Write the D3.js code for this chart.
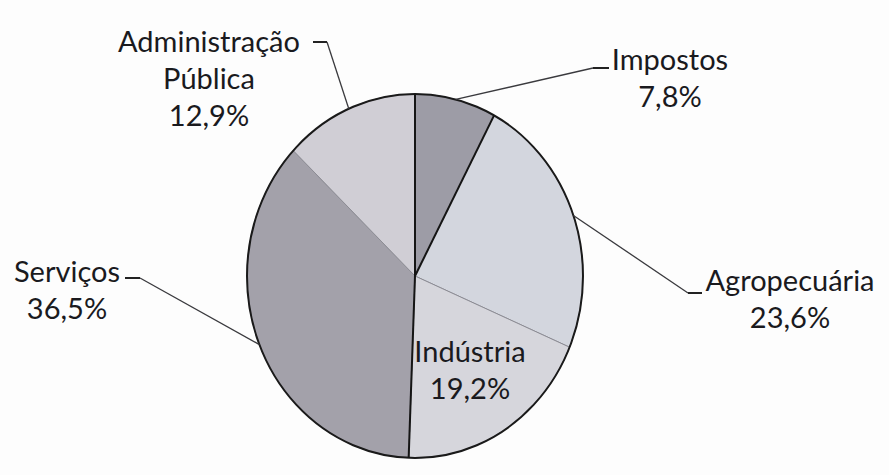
<!DOCTYPE html>
<html>
<head>
<meta charset="utf-8">
<script src="https://cdn.jsdelivr.net/npm/d3@7"></script>
<style>
  body { margin: 0; background: #fdfdfd; }
  svg { display: block; }
  .lbl { font-family: Lato, "Open Sans", sans-serif; font-size: 29px; fill: #1a1a1e; }
</style>
</head>
<body>
<svg id="chart" width="889" height="475"></svg>
<script>
// data
const categories = ["Impostos", "Agropecuária", "Indústria", "Serviços", "Administração Pública"];
const shares = [7.8, 23.6, 19.2, 36.5, 12.9];
const shareText = ["7,8%", "23,6%", "19,2%", "36,5%", "12,9%"];
const nameLines = [["Impostos"], ["Agropecuária"], ["Indústria"], ["Serviços"], ["Administração", "Pública"]];
const fills = ["#9d9ca6", "#d3d6de", "#d6d6dc", "#a3a1aa", "#d0ced5"];

// layout
const cx = 415, cy = 276, rx = 168, ry = 182;
const lineGap = 37;
// label centre x, first baseline, leader dash [x where the line joins, x at label, y]
const labelPos = [
  { x: 670, y: 70, dash: [593, 609, 68] },
  { x: 790, y: 291, dash: [688, 702, 293] },
  { x: 470, y: 362, dash: null },
  { x: 67, y: 282, dash: [140, 125, 278] },
  { x: 209, y: 52, dash: [327, 313, 42] }
];

const svg = d3.select("#chart");

const pie = d3.pie().sort(null).value(d => d);
const arcs = pie(shares);
const arc = d3.arc().innerRadius(0).outerRadius(rx);

// pie is a bit taller than wide in the scan, so stretch it
const g = svg.append("g")
  .attr("transform", `translate(${cx},${cy}) scale(1,${ry / rx})`);

g.selectAll("path.slice")
  .data(arcs)
  .enter().append("path")
  .attr("class", "slice")
  .attr("d", arc)
  .attr("fill", (d, i) => fills[i])
  .attr("stroke", "#8c8c94")
  .attr("stroke-width", 1)
  .attr("vector-effect", "non-scaling-stroke");

// outer rim
g.append("ellipse")
  .attr("rx", rx).attr("ry", rx)
  .attr("fill", "none")
  .attr("stroke", "#1a1a1a")
  .attr("stroke-width", 2)
  .attr("vector-effect", "non-scaling-stroke");

// dark radial edges: both sides of Impostos and the bottom edge of Indústria
const darkEdges = [arcs[0].startAngle, arcs[0].endAngle, arcs[2].endAngle];
g.selectAll("line.edge")
  .data(darkEdges)
  .enter().append("line")
  .attr("class", "edge")
  .attr("x1", 0).attr("y1", 0)
  .attr("x2", a => rx * Math.sin(a))
  .attr("y2", a => -rx * Math.cos(a))
  .attr("stroke", "#151515")
  .attr("stroke-width", 2)
  .attr("vector-effect", "non-scaling-stroke");

// point on the rim at the middle of a slice, page coordinates
function rimPoint(d) {
  let a = (d.startAngle + d.endAngle) / 2;
  return [cx + rx * Math.sin(a), cy - ry * Math.cos(a)];
}

// leader lines
arcs.forEach((d, i) => {
  let p = labelPos[i];
  if (!p.dash) return;
  let rim = rimPoint(d);
  svg.append("path")
    .attr("d", `M${rim[0]},${rim[1]} L${p.dash[0]},${p.dash[2]}`)
    .attr("fill", "none")
    .attr("stroke", "#3a3a3e")
    .attr("stroke-width", 1.3);
  // short dash at the label end
  svg.append("line")
    .attr("x1", p.dash[0]).attr("x2", p.dash[1])
    .attr("y1", p.dash[2]).attr("y2", p.dash[2])
    .attr("stroke", "#222")
    .attr("stroke-width", 2);
});

// labels
arcs.forEach((d, i) => {
  let p = labelPos[i];
  let lines = nameLines[i].concat([shareText[i]]);
  let t = svg.append("text")
    .attr("class", "lbl")
    .attr("text-anchor", "middle");
  lines.forEach((s, k) => {
    t.append("tspan")
      .attr("x", p.x)
      .attr("y", p.y + k * lineGap)
      .text(s);
  });
});
</script>
</body>
</html>
